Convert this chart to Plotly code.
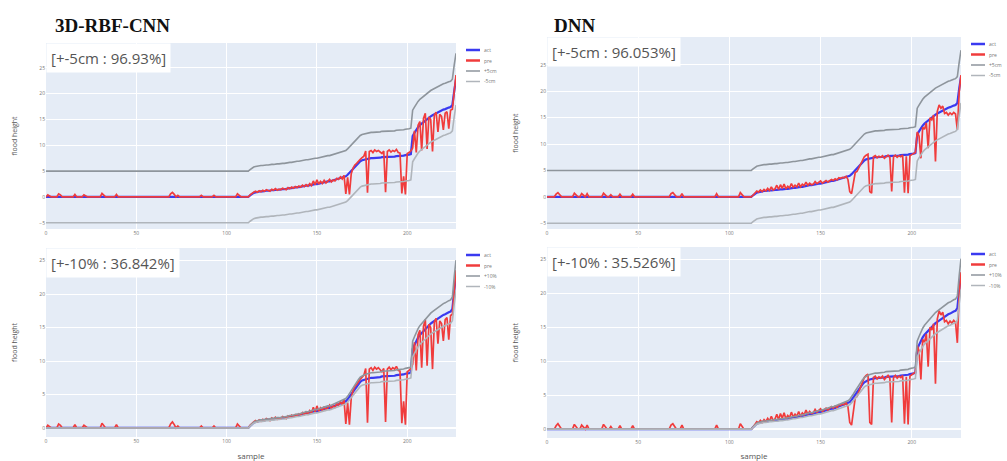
import plotly.graph_objects as go

W, H = 1007, 461

sample = list(range(228))

act = [
    0, 0, 0, 0, 0, 0, 0, 0, 0, 0, 0, 0, 0, 0, 0, 0, 0, 0, 0, 0,
    0, 0, 0, 0, 0, 0, 0, 0, 0, 0, 0, 0, 0, 0, 0, 0, 0, 0, 0, 0,
    0, 0, 0, 0, 0, 0, 0, 0, 0, 0, 0, 0, 0, 0, 0, 0, 0, 0, 0, 0,
    0, 0, 0, 0, 0, 0, 0, 0, 0, 0, 0, 0, 0, 0, 0, 0, 0, 0, 0, 0,
    0, 0, 0, 0, 0, 0, 0, 0, 0, 0, 0, 0, 0, 0, 0, 0, 0, 0, 0, 0,
    0, 0, 0, 0, 0, 0, 0, 0, 0, 0, 0, 0, 0,
    0.3, 0.6, 0.8, 0.9, 1.0, 1.0, 1.1, 1.1, 1.2, 1.2, 1.2, 1.3, 1.3, 1.3, 1.4, 1.4, 1.4, 1.5, 1.5, 1.5,
    1.6, 1.6, 1.7, 1.7, 1.8, 1.8, 1.9, 1.9, 2.0, 2.0, 2.1, 2.2, 2.2, 2.3, 2.3, 2.4, 2.5, 2.5, 2.6, 2.7,
    2.7, 2.8, 2.9, 3.0, 3.0, 3.1, 3.2, 3.3, 3.4, 3.5, 3.6, 3.7, 3.8,
    4.0, 4.3, 4.7, 5.1, 5.5, 5.9, 6.3, 6.6, 6.9, 7.1, 7.2,
    7.3, 7.4, 7.4, 7.5, 7.5, 7.5, 7.6, 7.6, 7.6, 7.7, 7.7, 7.7, 7.7, 7.8, 7.8, 7.8, 7.8, 7.9, 7.9, 7.9,
    8.0, 8.0, 8.1, 8.1, 8.2, 8.3,
    11.8, 12.4, 13.0, 13.5, 13.9, 14.2, 14.5, 14.8, 15.1, 15.3, 15.6, 15.8, 16.0, 16.2, 16.4, 16.6,
    16.8, 16.9, 17.0, 17.2, 17.3, 17.4,
    17.8, 20.5, 22.8,
]

pre_cnn = [
    0, 0.4, 0.2, 0, 0, 0, 0, 0.6, 0.4, 0,
    0, 0, 0, 0, 0, 0, 0.5, 0, 0, 0,
    0, 0.4, 0.2, 0, 0, 0, 0, 0, 0, 0,
    0, 0.7, 0.3, 0, 0, 0, 0, 0, 0, 0.5,
    0, 0, 0, 0, 0, 0, 0, 0, 0, 0,
    0, 0, 0, 0, 0, 0, 0, 0, 0, 0,
    0, 0, 0, 0, 0, 0, 0, 0, 0, 0.6,
    0.9, 0.5, 0, 0.3, 0, 0, 0, 0, 0, 0,
    0, 0, 0, 0, 0, 0, 0.3, 0, 0, 0,
    0, 0, 0, 0.3, 0, 0, 0, 0, 0, 0,
    0, 0, 0, 0, 0, 0, 0.6, 0.3, 0, 0,
    0, 0, 0,
    0.4, 0.7, 0.9, 1.1, 0.9, 1.2, 1.0, 1.3, 1.1, 1.4,
    1.2, 1.1, 1.5, 1.3, 1.6, 1.3, 1.5, 1.4, 1.7, 1.5,
    1.4, 1.8, 1.6, 1.9, 1.7, 2.0, 1.8, 2.1, 1.9, 2.3,
    2.0, 2.4, 2.1, 2.6, 2.2, 3.1, 2.4, 3.3, 2.5, 3.0,
    2.6, 3.2, 2.7, 3.0, 3.4, 2.9, 3.3, 3.1, 3.6, 3.4,
    3.9, 3.5, 4.2,
    0.6, 3.8, 0.5, 4.5, 5.6, 6.2, 6.5, 7.0, 7.3, 7.6, 7.9,
    8.9, 0.8, 8.8, 9.0, 8.6, 9.1, 8.8, 9.0, 8.7, 8.4, 8.9, 0.9, 8.8, 9.1, 8.7, 9.0,
    8.8, 9.2, 8.6, 8.5, 0.7, 4.0, 0.5, 8.4, 8.6, 8.9,
    9.5, 12.8, 8.6, 13.9, 14.6, 9.0, 15.2, 16.2, 9.3, 15.5, 15.0, 8.8, 15.8, 16.4,
    12.6, 16.0, 15.6, 13.0, 16.2, 16.5, 13.2, 16.8, 17.0, 20.8, 23.6,
]

pre_dnn = [
    0, 0, 0, 0, 0, 0.5, 0.8, 0.4, 0, 0,
    0, 0, 0, 0, 0, 0.7, 0.4, 0, 0, 0.6,
    0.3, 0, 0.6, 0, 0, 0, 0, 0, 0, 0,
    0, 0.7, 0.3, 0, 0, 0.4, 0, 0, 0, 0,
    0.5, 0, 0, 0, 0, 0, 0, 0.5, 0, 0,
    0, 0, 0, 0, 0, 0, 0, 0, 0, 0,
    0, 0, 0, 0, 0, 0, 0, 0, 0.6, 0.8,
    0.4, 0, 0, 0, 0.6, 0, 0, 0, 0, 0,
    0, 0, 0, 0, 0, 0, 0, 0, 0, 0,
    0, 0, 0, 0.6, 0, 0, 0, 0, 0, 0,
    0, 0, 0, 0, 0, 0, 0.8, 0.3, 0, 0,
    0, 0, 0,
    0.3, 0.8, 1.1, 0.9, 1.3, 1.0, 1.4, 1.1, 1.6, 1.2,
    1.9, 1.3, 1.5, 2.2, 1.4, 2.3, 1.6, 2.4, 1.5, 2.0,
    1.7, 2.5, 1.8, 2.2, 1.9, 2.6, 1.9, 2.4, 2.1, 2.8,
    2.2, 2.6, 2.3, 2.4, 2.9, 2.5, 2.7, 3.0, 2.6, 2.9,
    3.1, 2.8, 3.0, 3.3, 3.1, 3.4, 3.2, 3.6, 3.5, 3.7,
    3.6, 3.9, 3.3,
    1.0, 0.6, 2.8, 4.6, 4.8, 5.5, 6.5, 7.2, 7.6, 7.9, 8.1,
    1.0, 0.7, 7.6, 7.8, 7.4, 7.7, 7.5, 7.8, 7.3, 7.6, 7.9, 7.5, 1.0, 7.6, 7.9, 7.5,
    7.8, 7.6, 7.9, 0.8, 7.7, 0.7, 7.8, 8.0, 8.2, 8.4,
    12.3, 11.5, 7.3, 13.2, 12.8, 14.0, 9.2, 15.0, 14.6, 15.5, 6.7, 16.2, 17.4, 16.8,
    17.2, 15.8, 16.0, 15.5, 15.9, 15.6, 16.0, 15.7, 12.7, 19.8, 23.1,
]

model_titles = ["3D-RBF-CNN", "DNN"]
acc_labels = ["[+-5cm : 96.93%]", "[+-5cm : 96.053%]",
              "[+-10% : 36.842%]", "[+-10% : 35.526%]"]
names_top = ["act", "pre", "+5cm", "-5cm"]
names_bot = ["act", "pre", "+10%", "-10%"]
x_ticks = [0, 50, 100, 150, 200]
y_ticks_top = [-5, 0, 5, 10, 15, 20, 25]
y_ticks_bot = [0, 5, 10, 15, 20, 25]

up5 = [a + 5 for a in act]
dn5 = [a - 5 for a in act]
up10 = [a * 1.1 for a in act]
dn10 = [a * 0.9 for a in act]

C_ACT = "#3a3af0"
C_PRE = "#f03c3c"
C_UP = "#8e959c"
C_DN = "#b0b5bb"

# panel boxes in pixels: (left, right, top, bottom, yrange)
panels = [
    dict(l=46, r=456, t=43, b=229, yr=[-6.2, 29.8], pre=pre_cnn, up=up5, dn=dn5,
         names=names_top, yt=y_ticks_top, xt=False),
    dict(l=547, r=961, t=37, b=229, yr=[-6.1, 30.3], pre=pre_dnn, up=up5, dn=dn5,
         names=names_top, yt=y_ticks_top, xt=False),
    dict(l=46, r=456, t=248, b=437, yr=[-1.35, 26.9], pre=pre_cnn, up=up10, dn=dn10,
         names=names_bot, yt=y_ticks_bot, xt=True),
    dict(l=547, r=961, t=247, b=438, yr=[-1.3, 26.8], pre=pre_dnn, up=up10, dn=dn10,
         names=names_bot, yt=y_ticks_bot, xt=True),
]

fig = go.Figure()
layout = dict(
    width=W, height=H, margin=dict(l=0, r=0, t=0, b=0),
    paper_bgcolor="white", plot_bgcolor="#E5ECF6",
    showlegend=False, font=dict(family="Open Sans", color="#666"),
)
annotations = []
shapes = []

for i, p in enumerate(panels):
    k = "" if i == 0 else str(i + 1)
    xa, ya = "x" + k, "y" + k
    series = [(act, C_ACT, 2.2), (p["pre"], C_PRE, 1.7), (p["up"], C_UP, 1.6), (p["dn"], C_DN, 1.6)]
    for (vals, col, lw), nm in zip(series, p["names"]):
        fig.add_trace(go.Scatter(x=sample, y=vals, mode="lines", name=nm,
                                 line=dict(color=col, width=lw), xaxis=xa, yaxis=ya))
    layout["xaxis" + k] = dict(
        domain=[p["l"] / W, p["r"] / W], anchor=ya, range=[0, 227],
        tickvals=x_ticks, tickfont=dict(size=5, color="#777"),
        gridcolor="white", zeroline=False, automargin=False,
        title=dict(text="sample" if p["xt"] else "", font=dict(size=8, color="#555"), standoff=10),
    )
    layout["yaxis" + k] = dict(
        domain=[1 - p["b"] / H, 1 - p["t"] / H], anchor=xa, range=p["yr"],
        tickvals=p["yt"], tickfont=dict(size=5, color="#777"),
        gridcolor="white", zeroline=True, zerolinecolor="white", zerolinewidth=2,
        automargin=False,
        title=dict(text="flood height", font=dict(size=7, color="#555"), standoff=20),
    )
    annotations.append(dict(
        text=acc_labels[i], xref="paper", yref="paper", x=p["l"] / W, y=1 - p["t"] / H,
        xanchor="left", yanchor="top", showarrow=False, bgcolor="white", borderpad=4,
        font=dict(size=15, color="#555", family="Open Sans"),
    ))
    # compact legend
    lx0 = p["r"] + 10
    for j, ((vals, col, lw), nm) in enumerate(zip(series, p["names"])):
        yy = 1 - (p["t"] + 7 + j * 10.5) / H
        shapes.append(dict(type="line", xref="paper", yref="paper",
                           x0=lx0 / W, x1=(lx0 + 14) / W, y0=yy, y1=yy,
                           line=dict(color=col, width=2.5 if j < 2 else 1.5)))
        annotations.append(dict(text=nm, xref="paper", yref="paper", x=(lx0 + 16) / W, y=yy,
                                xanchor="left", yanchor="middle", showarrow=False,
                                font=dict(size=5, color="#777")))

for c, t in enumerate(model_titles):
    annotations.append(dict(
        text="<b>" + t + "</b>", xref="paper", yref="paper",
        x=(53 if c == 0 else 552) / W, y=1 - 25 / H, xanchor="left", yanchor="middle",
        showarrow=False, font=dict(family="Liberation Serif", size=19, color="#111"),
    ))

layout["annotations"] = annotations
layout["shapes"] = shapes
fig.update_layout(**layout)
fig.write_html("out.html", config={"displayModeBar": False},
               post_script="document.body.style.margin='0';document.body.style.overflow='hidden';")
